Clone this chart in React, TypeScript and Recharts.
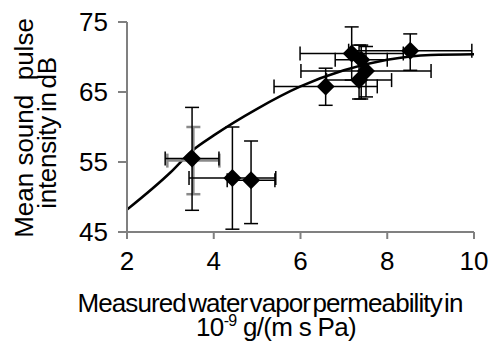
import React from "react";
import { ComposedChart, Scatter, Line, XAxis, YAxis, ErrorBar } from "recharts";

const pointX = [3.5, 4.43, 4.86, 6.58, 7.18, 7.4, 7.51, 7.35, 8.53];
const pointY = [55.5, 52.7, 52.4, 65.8, 70.5, 69.6, 68.0, 66.7, 70.9];
const pointXErr = [0.62, 1.0, 0.55, 1.19, 1.19, 0.6, 1.5, 0.75, 1.42];
const pointYErr: [number, number][] = [
  [7.4, 7.3],
  [7.3, 7.3],
  [6.2, 5.6],
  [2.7, 2.6],
  [3.8, 3.8],
  [5.6, 2.1],
  [3.7, 3.5],
  [2.7, 5.0],
  [2.8, 2.4],
];

const grayX = [3.53];
const grayY = [55.2];
const grayXErr = [0.6];
const grayYErr = [4.8];

const curveX = [2, 3, 3.5, 4, 5, 6, 7, 8, 9, 10];
const curveY = [48.2, 53.5, 56.6, 58.8, 62.6, 65.8, 68.1, 69.6, 70.3, 70.4];

const xTicks = [2, 4, 6, 8, 10];
const yTicks = [45, 55, 65, 75];

const points = pointX.map((x, i) => ({ x, y: pointY[i], ex: pointXErr[i], ey: pointYErr[i] }));
const grayPoints = grayX.map((x, i) => ({ x, y: grayY[i], ex: grayXErr[i], ey: grayYErr[i] }));
const curve = curveX.map((x, i) => ({ x, c: curveY[i] }));

const FONT = "'Liberation Sans', Arial, sans-serif";

const Diamond = (props: any) => {
  const { cx, cy } = props;
  if (cx == null || cy == null) return null;
  const r = 9;
  return (
    <polygon
      points={`${cx},${cy - r} ${cx + r},${cy} ${cx},${cy + r} ${cx - r},${cy}`}
      fill="#000"
    />
  );
};

const NoShape = () => null;

const XLabel = () => (
  <g fontFamily={FONT} fontSize={26} fill="#000">
    <text x={270} y={312} textAnchor="middle" wordSpacing={-4} letterSpacing={-0.9}>
      Measured water vapor permeability in
    </text>
    <text x={276} y={336} textAnchor="middle" letterSpacing={-0.7}>
      10<tspan fontSize={16} dy={-10}>-9</tspan>
      <tspan dy={10}> g/(m s Pa)</tspan>
    </text>
  </g>
);

const YLabel = () => (
  <g fontFamily={FONT} fill="#000">
    <text
      x={33}
      y={128}
      fontSize={26}
      textAnchor="middle"
      transform="rotate(-90, 33, 128)"
      xmlSpace="preserve"
      style={{ whiteSpace: "pre" }}
    >
      {"Mean sound  pulse"}
    </text>
    <text
      x={56}
      y={133}
      fontSize={26}
      textAnchor="middle"
      transform="rotate(-90, 56, 133)"
      wordSpacing={-3}
      letterSpacing={-0.3}
    >
      intensity in dB
    </text>
  </g>
);

export default function App() {
  return (
    <div style={{ position: "absolute", left: 0, top: 0, width: 489, height: 344, background: "#fff" }}>
      <ComposedChart width={489} height={344} margin={{ top: 22, right: 15, bottom: 0, left: 0 }}>
        <XAxis
          dataKey="x"
          type="number"
          domain={[2, 10]}
          ticks={xTicks}
          allowDataOverflow
          height={112}
          axisLine={{ stroke: "#808080", strokeWidth: 2 }}
          tickLine={{ stroke: "#808080", strokeWidth: 2 }}
          tickSize={7}
          tickMargin={13}
          tick={{ fill: "#000", fontSize: 26, fontFamily: FONT }}
          label={{ content: () => <XLabel /> }}
        />
        <YAxis
          type="number"
          domain={[45, 75]}
          ticks={yTicks}
          allowDataOverflow
          width={127}
          axisLine={{ stroke: "#808080", strokeWidth: 2 }}
          tickLine={{ stroke: "#808080", strokeWidth: 2 }}
          tickSize={9}
          tickMargin={10}
          tick={{ fill: "#000", fontSize: 26, fontFamily: FONT }}
          label={{ content: () => <YLabel /> }}
        />
        <Line
          data={curve}
          dataKey="c"
          type="monotone"
          stroke="#000"
          strokeWidth={2.5}
          dot={false}
          activeDot={false}
          isAnimationActive={false}
        />
        <Scatter data={grayPoints} dataKey="y" shape={NoShape} isAnimationActive={false}>
          <ErrorBar dataKey="ex" direction="x" width={7} stroke="#8a8a8a" strokeWidth={2.5} />
          <ErrorBar dataKey="ey" direction="y" width={7} stroke="#8a8a8a" strokeWidth={2.5} />
        </Scatter>
        <Scatter data={points} dataKey="y" shape={Diamond} isAnimationActive={false}>
          <ErrorBar dataKey="ex" direction="x" width={7} stroke="#000" strokeWidth={1.5} />
          <ErrorBar dataKey="ey" direction="y" width={7} stroke="#000" strokeWidth={1.5} />
        </Scatter>
      </ComposedChart>
    </div>
  );
}
